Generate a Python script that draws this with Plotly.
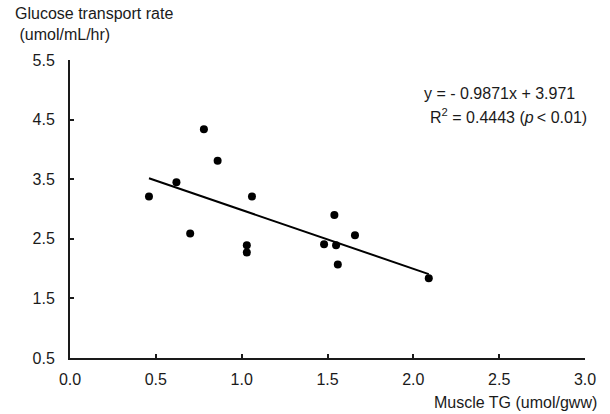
import plotly.graph_objects as go

# Data
muscle_tg = [0.46, 0.62, 0.78, 0.86, 1.06, 0.70, 1.03, 1.03, 1.54, 1.66, 1.48, 1.55, 1.56, 2.09]
glucose_rate = [3.21, 3.45, 4.34, 3.81, 3.21, 2.59, 2.39, 2.27, 2.90, 2.56, 2.41, 2.39, 2.07, 1.84]
slope = -0.9871
intercept = 3.971
fit_x = [min(muscle_tg), max(muscle_tg)]
fit_y = [slope * v + intercept for v in fit_x]
x_ticks = [0.0, 0.5, 1.0, 1.5, 2.0, 2.5, 3.0]
y_ticks = [0.5, 1.5, 2.5, 3.5, 4.5, 5.5]

FONT = "Liberation Sans, Arial, sans-serif"
INK = "#1a1a1a"
L, T, W, H = 70, 60, 515, 298

def px(x):
    return (x - L) / W

def py(y):
    return (T + H - y) / H

fig = go.Figure()
fig.add_trace(go.Scatter(x=fit_x, y=fit_y, mode="lines",
                         line=dict(color="black", width=2), showlegend=False))
fig.add_trace(go.Scatter(x=muscle_tg, y=glucose_rate, mode="markers",
                         marker=dict(color="black", size=8), showlegend=False))

fig.update_layout(
    width=610, height=414,
    margin=dict(l=L, r=610 - L - W, t=T, b=414 - T - H),
    paper_bgcolor="white", plot_bgcolor="white",
    font=dict(family=FONT, size=16, color=INK),
    xaxis=dict(range=[0, 3], tickvals=x_ticks, ticktext=[f"{v:.1f}" for v in x_ticks],
               showgrid=False, zeroline=False, showline=True, linecolor=INK, linewidth=2,
               ticks="inside", ticklen=4, tickwidth=1.5, tickcolor=INK,
               ticklabelstandoff=6),
    yaxis=dict(range=[0.5, 5.5], tickvals=y_ticks, ticktext=[f"{v:.1f}" for v in y_ticks],
               showgrid=False, zeroline=False, showline=True, linecolor=INK, linewidth=2,
               ticks="inside", ticklen=4, tickwidth=1.5, tickcolor=INK,
               ticklabelstandoff=10),
    annotations=[
        dict(text="Glucose transport rate", xref="paper", yref="paper",
             x=px(13), y=py(13), xanchor="left", yanchor="middle", showarrow=False),
        dict(text=" (umol/mL/hr)", xref="paper", yref="paper",
             x=px(13), y=py(34), xanchor="left", yanchor="middle", showarrow=False),
        dict(text="Muscle TG (umol/gww)", xref="paper", yref="paper",
             x=px(599), y=py(402), xanchor="right", yanchor="middle", showarrow=False),
        dict(text="y = - 0.9871x + 3.971", xref="paper", yref="paper",
             x=px(422), y=py(93), xanchor="left", yanchor="middle", showarrow=False),
        dict(text="R<sup>2</sup> = 0.4443 (<i>p</i>\u2009&lt; 0.01)", xref="paper", yref="paper",
             x=px(428), y=py(116), xanchor="left", yanchor="middle", showarrow=False),
    ],
)

fig.write_html("out.html")
